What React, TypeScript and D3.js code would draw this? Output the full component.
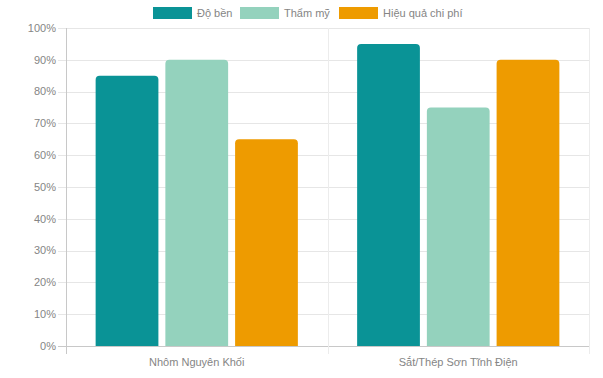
import React from "react";
import * as d3 from "d3";

const categories = ["Nhôm Nguyên Khối", "Sắt/Thép Sơn Tĩnh Điện"];
const seriesNames = ["Độ bền", "Thẩm mỹ", "Hiệu quả chi phí"];
const doBen = [85, 95];
const thamMy = [90, 75];
const hieuQua = [65, 90];
const seriesValues = [doBen, thamMy, hieuQua];
const colors = ["#0a9396", "#94d2bd", "#ee9b00"];
const yTicks = [0, 10, 20, 30, 40, 50, 60, 70, 80, 90, 100];

const W = 603;
const H = 378;
const left = 66;
const right = 589;
const top = 28;
const bottom = 346;
const font = "'Liberation Sans', Arial, Helvetica, sans-serif";
const fs = 11;
const txt = "#858585";

function topRoundedRect(x: number, y: number, w: number, h: number, r: number) {
  const rr = Math.min(r, w / 2, h);
  return `M${x},${y + h}V${y + rr}Q${x},${y} ${x + rr},${y}H${x + w - rr}Q${x + w},${y} ${x + w},${y + rr}V${y + h}Z`;
}

export default function App() {
  const x0 = d3.scaleBand<string>().domain(categories).range([left, right]).paddingInner(0).paddingOuter(0);
  const bw = x0.bandwidth();
  const x1 = d3
    .scaleBand<number>()
    .domain(seriesNames.map((_, i) => i))
    .range([bw * 0.1, bw * 0.9]);
  const slot = x1.bandwidth();
  const barW = slot * 0.9;
  const y = d3.scaleLinear().domain([0, 100]).range([bottom, top]);

  const legendItems = [
    { x: 153, label: seriesNames[0], color: colors[0] },
    { x: 240, label: seriesNames[1], color: colors[1] },
    { x: 339, label: seriesNames[2], color: colors[2] },
  ];

  const gridX = [left, ...categories.map((c) => (x0(c) as number) + bw)];

  return (
    <svg width={W} height={H} style={{ position: "absolute", left: 0, top: 0 }}>
      <rect width={W} height={H} fill="#fff" />
      {yTicks.map((t) => (
        <line
          key={"h" + t}
          x1={left - 8}
          x2={right}
          y1={Math.round(y(t)) + 0.5}
          y2={Math.round(y(t)) + 0.5}
          stroke={t === 0 ? "#c8c8c8" : "#e6e6e6"}
          strokeWidth={1}
        />
      ))}
      {gridX.map((gx, i) => (
        <line
          key={"v" + i}
          x1={Math.round(gx) + 0.5}
          x2={Math.round(gx) + 0.5}
          y1={top}
          y2={bottom + 8}
          stroke={i === 0 ? "#c8c8c8" : "#ececec"}
          strokeWidth={1}
        />
      ))}
      {yTicks.map((t) => (
        <text
          key={"yl" + t}
          x={left - 10}
          y={y(t)}
          dy="0.35em"
          textAnchor="end"
          fontFamily={font}
          fontSize={fs}
          fill={txt}
        >
          {t}%
        </text>
      ))}
      {categories.map((c, ci) =>
        seriesValues.map((vals, si) => {
          const bx = (x0(c) as number) + (x1(si) as number) + (slot - barW) / 2;
          const by = y(vals[ci]);
          return (
            <path
              key={c + si}
              d={topRoundedRect(bx, by, barW, bottom - by, 4)}
              fill={colors[si]}
            />
          );
        })
      )}
      {categories.map((c) => (
        <text
          key={"xl" + c}
          x={(x0(c) as number) + bw / 2}
          y={366}
          textAnchor="middle"
          fontFamily={font}
          fontSize={fs}
          fill={txt}
        >
          {c}
        </text>
      ))}
      {legendItems.map((it) => (
        <g key={it.label}>
          <rect x={it.x} y={7} width={39} height={12} fill={it.color} />
          <text x={it.x + 44} y={17} fontFamily={font} fontSize={fs} fill={txt}>
            {it.label}
          </text>
        </g>
      ))}
    </svg>
  );
}
